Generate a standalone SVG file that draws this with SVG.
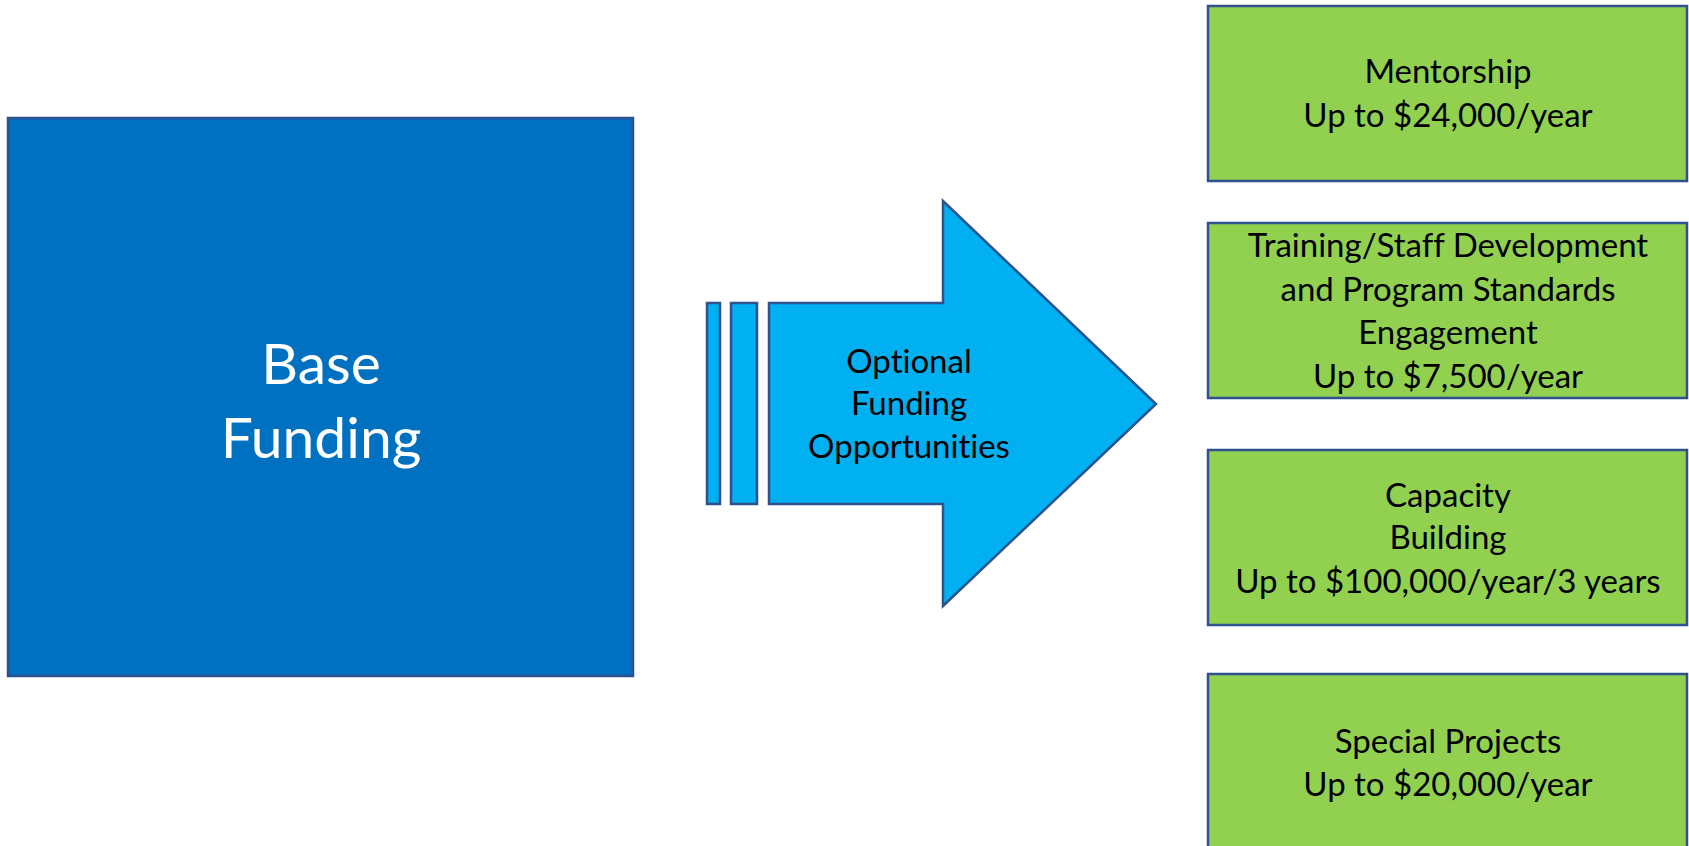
<svg xmlns="http://www.w3.org/2000/svg" width="1689" height="846" viewBox="0 0 1689 846">
<style>
.outline{stroke:#2F528F;stroke-width:2.5}
.base{fill:#0070C0}
.arrow{fill:#00B0F0}
.green{fill:#92D050}
text{font-family:Lato,"Noto Sans","Liberation Sans",sans-serif;text-anchor:middle;font-variant-ligatures:none;font-feature-settings:"liga" 0,"dlig" 0}
.wt{fill:#FFFFFF;font-size:57px}
.bt{fill:#000000;font-size:33px}
</style>
<rect width="1689" height="846" fill="#FFFFFF"/>
<g id="base-funding">
<rect class="base outline" x="8" y="118" width="625" height="558"/>
<text class="wt" x="321" y="384">Base</text>
<text class="wt" x="321" y="458">Funding</text>
</g>
<g id="optional-funding">
<rect class="arrow outline" x="707" y="303" width="13" height="201"/>
<rect class="arrow outline" x="731" y="303" width="26" height="201"/>
<polygon class="arrow outline" points="769,303 943,303 943,201 1156,404 943,606 943,504 769,504"/>
<text class="bt" x="909" y="373">Optional</text>
<text class="bt" x="909" y="415">Funding</text>
<text class="bt" x="909" y="458">Opportunities</text>
</g>
<g id="connectors"></g>
<g id="mentorship">
<rect class="green outline" x="1208" y="6" width="479" height="175"/>
<text class="bt" x="1448" y="83">Mentorship</text>
<text class="bt" x="1448" y="127">Up to $24,000/year</text>
</g>
<g id="training">
<rect class="green outline" x="1208" y="223" width="479" height="175"/>
<text class="bt" x="1448" y="257">Training/Staff Development</text>
<text class="bt" x="1448" y="301">and Program Standards</text>
<text class="bt" x="1448" y="344">Engagement</text>
<text class="bt" x="1448" y="388">Up to $7,500/year</text>
</g>
<g id="capacity">
<rect class="green outline" x="1208" y="450" width="479" height="175"/>
<text class="bt" x="1448" y="507">Capacity</text>
<text class="bt" x="1448" y="549">Building</text>
<text class="bt" x="1448" y="593">Up to $100,000/year/3 years</text>
</g>
<g id="special-projects">
<rect class="green outline" x="1208" y="674" width="479" height="190"/>
<text class="bt" x="1448" y="753">Special Projects</text>
<text class="bt" x="1448" y="796">Up to $20,000/year</text>
</g>
</svg>
